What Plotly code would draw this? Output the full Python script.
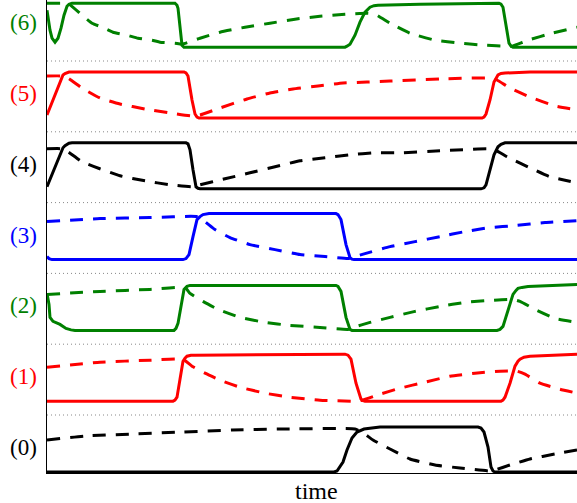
import plotly.graph_objects as go

# time axis: arbitrary units (0 .. 530); levels: 0 = rest, ~46 = active
r0_solid_t = [0, 287, 290, 293, 296, 300, 305, 310, 317, 333, 431, 434, 437, 441, 444, 446, 448, 530]
r0_solid_v = [0, 0, 1, 5, 10, 22, 34, 40, 43, 45, 45, 44, 40, 25, 5, 1, 0, 0]
r0_dash_t = [0, 38, 86, 136, 185, 233, 308, 315, 326, 343, 363, 388, 413, 443, 448, 463, 483, 508, 530]
r0_dash_v = [32, 36, 38, 40, 42, 43, 43, 40, 32, 23, 13, 7, 4, 1, 2, 7, 13, 18, 22]

r1_solid_t = [0, 126, 128, 130, 133, 136, 138, 140, 144, 148, 298, 301, 304, 309, 314, 316, 318, 454, 456, 458, 463, 468, 471, 473, 477, 483, 530]
r1_solid_v = [0, 0, 1, 4, 22, 40, 43, 45, 46, 46, 47, 46, 42, 18, 2, 0.5, 0, 0, 1, 4, 18, 35, 40, 42, 44, 45, 47]
r1_dash_t = [0, 53, 103, 136, 145, 158, 173, 193, 218, 243, 273, 308, 315, 333, 353, 378, 403, 428, 453, 470, 478, 493, 513, 530]
r1_dash_v = [34, 39, 41, 42, 35, 28, 21, 14, 8, 4, 1, 0, 1, 7, 13, 19, 25, 28, 30, 30, 27, 18, 12, 8]

r2_solid_t = [0, 2, 3, 6, 13, 19, 24, 28, 127, 129, 131, 134, 137, 140, 143, 289, 291, 294, 299, 303, 305, 450, 453, 456, 461, 466, 469, 471, 475, 481, 530]
r2_solid_v = [37, 26, 13, 9, 6, 2, 0.5, 0, 0, 2, 7, 26, 41, 44, 45, 45, 44, 39, 13, 1, 0, 0, 1, 4, 19, 36, 40, 42, 43, 44, 46]
r2_dash_t = [0, 53, 103, 138, 143, 156, 171, 193, 218, 243, 273, 301, 306, 323, 343, 368, 393, 418, 443, 465, 473, 488, 508, 530]
r2_dash_v = [36, 39, 41, 43, 37, 29, 21, 13, 8, 5, 3, 1, 3, 8, 13, 19, 24, 28, 30, 31, 29, 21, 12, 8]

r3_solid_t = [0, 2, 5, 136, 139, 142, 146, 150, 153, 156, 162, 168, 289, 291, 294, 299, 303, 305, 307, 530]
r3_solid_v = [3, 1, 0, 0, 1, 5, 23, 40, 43, 45, 46, 46, 46, 45, 40, 15, 2, 0.5, 0, 0]
r3_dash_t = [0, 53, 103, 150, 158, 168, 183, 203, 228, 253, 278, 301, 305, 318, 343, 368, 393, 418, 443, 468, 498, 530]
r3_dash_v = [38, 41, 42, 43, 38, 30, 22, 15, 10, 5, 3, 1, 2, 6, 13, 18, 23, 28, 32, 34, 37, 39]

r4_solid_t = [0, 16, 18, 20, 22, 25, 139, 141, 143, 146, 149, 151, 153, 434, 437, 439, 443, 447, 451, 454, 458, 530]
r4_solid_v = [2, 41, 43, 44.5, 45.5, 46, 46, 45, 39, 19, 2, 0.5, 0, 0, 1, 4, 19, 34, 42, 44.5, 46, 46]
r4_dash_t = [0, 15, 21, 35, 53, 73, 98, 123, 146, 153, 178, 203, 228, 253, 278, 303, 328, 353, 393, 440, 448, 460, 483, 503, 530]
r4_dash_v = [40, 40, 37, 27, 20, 13, 8, 4, 2, 4, 10, 16, 22, 28, 31, 34, 36, 36, 38, 40, 39, 32, 21, 12, 6]

r5_solid_t = [0, 16, 18, 20, 22, 25, 137, 139, 141, 145, 148, 150, 152, 435, 437, 439, 443, 447, 451, 454, 458, 483, 530]
r5_solid_v = [3, 43, 44.5, 45.5, 46, 46, 46, 45, 42, 18, 4, 1, 0, 0, 1, 4, 18, 36, 43, 44.5, 45, 46, 46]
r5_dash_t = [0, 15, 21, 35, 53, 73, 98, 123, 145, 153, 173, 200, 223, 246, 271, 296, 320, 343, 393, 443, 450, 463, 483, 508, 530]
r5_dash_v = [42, 42, 40, 30, 20, 14, 9, 5, 2, 3, 10, 19, 25, 29, 32, 35, 36, 37, 39, 40, 38, 30, 21, 12, 8]

r6_solid_t = [0, 3, 5, 8, 11, 14, 17, 20, 22, 25, 128, 130, 131, 133, 135, 137, 298, 300, 303, 308, 313, 318, 323, 327, 331, 373, 452, 454, 456, 459, 462, 464, 466, 530]
r6_solid_v = [37, 17, 9, 5, 9, 19, 32, 41, 43, 44, 44, 42, 39, 20, 2, 0, 0, 1, 3, 12, 25, 35, 40, 41.5, 42, 43, 44, 43, 40, 22, 4, 1, 0, 0]
r6_dash_t = [0, 15, 21, 35, 45, 55, 66, 80, 91, 105, 113, 128, 135, 153, 173, 198, 223, 248, 273, 298, 321, 328, 343, 363, 388, 413, 438, 461, 465, 481, 505, 530]
r6_dash_v = [44, 44, 44, 32, 24, 20, 15, 12, 9, 7, 5, 4, 3, 9, 15, 20, 24, 28, 31, 33, 34, 33, 24, 14, 7, 4, 2, 1, 1, 7, 14, 20]

row_labels = ["(0)", "(1)", "(2)", "(3)", "(4)", "(5)", "(6)"]
row_colors = ["#000000", "#ff0000", "#008000", "#0000ff", "#000000", "#ff0000", "#008000"]
x_label = "time"

solids = [(r0_solid_t, r0_solid_v), (r1_solid_t, r1_solid_v), (r2_solid_t, r2_solid_v),
          (r3_solid_t, r3_solid_v), (r4_solid_t, r4_solid_v), (r5_solid_t, r5_solid_v),
          (r6_solid_t, r6_solid_v)]
dashes = [(r0_dash_t, r0_dash_v), (r1_dash_t, r1_dash_v), (r2_dash_t, r2_dash_v),
          (r3_dash_t, r3_dash_v), (r4_dash_t, r4_dash_v), (r5_dash_t, r5_dash_v),
          (r6_dash_t, r6_dash_v)]

ROW_STEP = 70.8
LABEL_OFF = 24.5
SEP_OFF = 57
SERIF = "Liberation Serif"

fig = go.Figure()
for k in range(7):
    off = k * ROW_STEP
    st, sv = solids[k]
    dt, dv = dashes[k]
    fig.add_trace(go.Scatter(x=st, y=[off + v for v in sv], mode="lines",
                             line=dict(color=row_colors[k], width=3, shape="linear"),
                             showlegend=False, hoverinfo="skip"))
    fig.add_trace(go.Scatter(x=dt, y=[off + v for v in dv], mode="lines",
                             line=dict(color=row_colors[k], width=3, dash="13px,10px",
                                       shape="spline", smoothing=0.4),
                             showlegend=False, hoverinfo="skip"))
    # row label (drawn as annotation so each can carry its own colour)
    fig.add_annotation(xref="paper", x=0, yref="y", y=LABEL_OFF + off,
                       xanchor="right", yanchor="middle", xshift=-8,
                       text=row_labels[k], showarrow=False,
                       font=dict(family=SERIF, size=23, color=row_colors[k]))

for k in range(6):
    fig.add_shape(type="line", xref="paper", x0=0, x1=1, yref="y",
                  y0=SEP_OFF + k * ROW_STEP, y1=SEP_OFF + k * ROW_STEP,
                  line=dict(color="#888888", width=1, dash="1px,3px"), layer="below")

fig.add_annotation(xref="paper", x=0.5, yref="paper", y=0, yanchor="top", yshift=-3, xshift=4,
                   text=x_label, showarrow=False,
                   font=dict(family=SERIF, size=24, color="black"))

fig.update_layout(
    width=577, height=503,
    margin=dict(l=47, r=0, t=0, b=30),
    plot_bgcolor="white", paper_bgcolor="white",
    font=dict(family=SERIF, size=23, color="black"),
    xaxis=dict(range=[0, 530], showgrid=False, zeroline=False, showticklabels=False,
               ticks="", showline=True, linecolor="black", linewidth=1),
    yaxis=dict(range=[-1, 472], showgrid=False, zeroline=False, ticks="",
               showticklabels=False, showline=True, linecolor="black", linewidth=1),
)

fig.write_html("out.html")
